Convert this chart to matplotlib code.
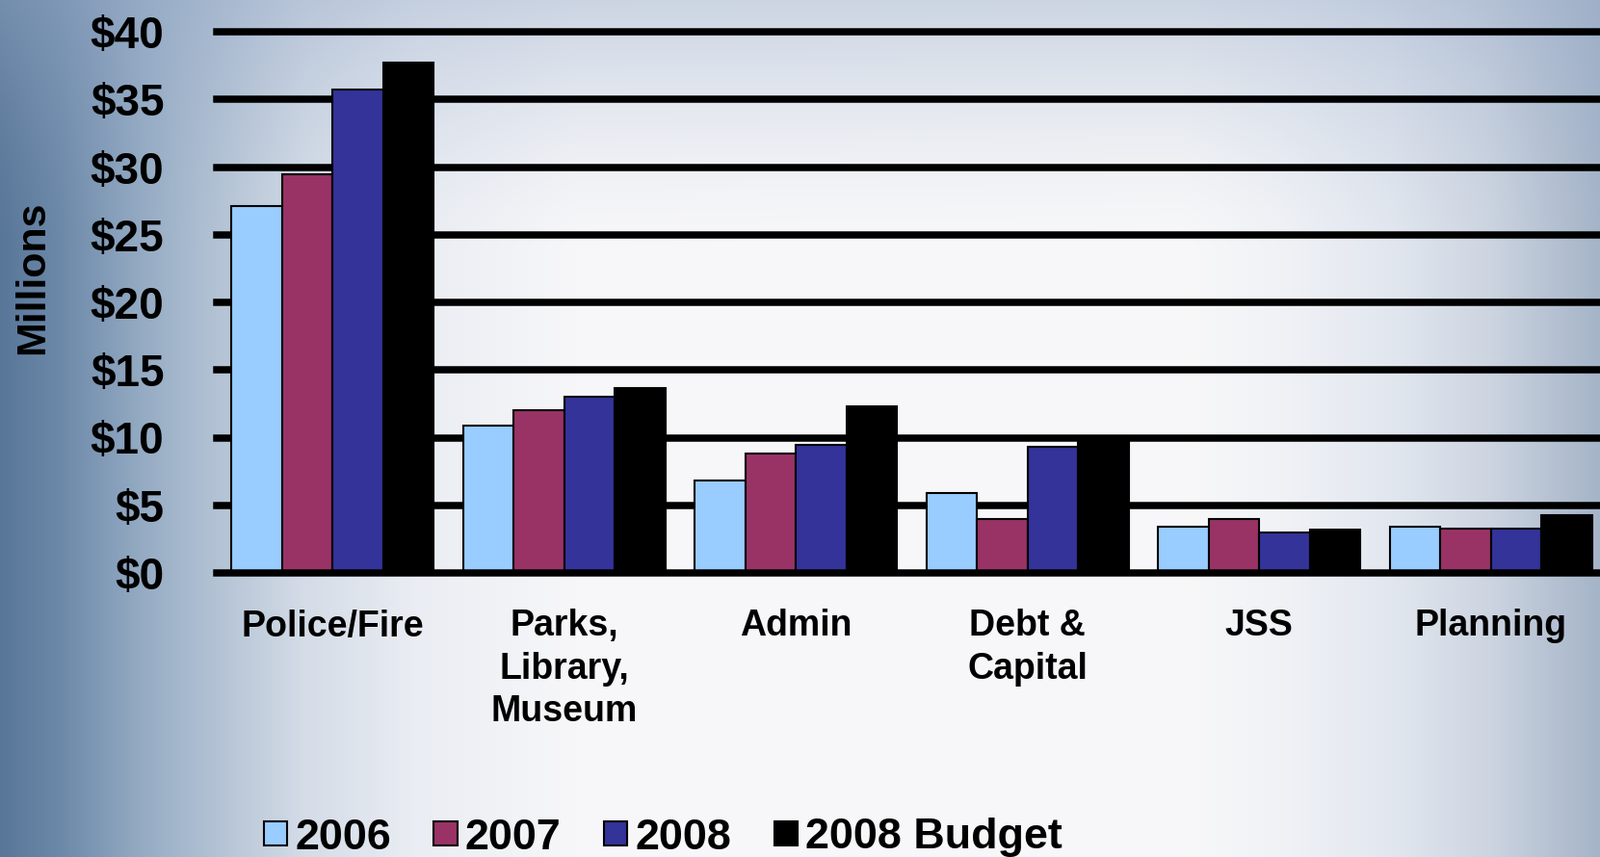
import numpy as np
import matplotlib
matplotlib.use("Agg")
import matplotlib.pyplot as plt

plt.rcParams['font.family'] = ['Liberation Sans', 'DejaVu Sans']
plt.rcParams['font.weight'] = 'bold'

categories = ["Police/Fire", "Parks,\nLibrary,\nMuseum", "Admin", "Debt &\nCapital", "JSS", "Planning"]
series_names = ["2006", "2007", "2008", "2008 Budget"]
v2006 = [27.1, 10.9, 6.8, 5.9, 3.4, 3.4]
v2007 = [29.5, 12.0, 8.8, 4.0, 4.0, 3.3]
v2008 = [35.7, 13.0, 9.5, 9.3, 3.0, 3.3]
vbudget = [37.7, 13.7, 12.3, 10.1, 3.2, 4.3]
series_values = [v2006, v2007, v2008, vbudget]
colors = ["#99CCFF", "#993366", "#333399", "#000000"]
yticks = [0, 5, 10, 15, 20, 25, 30, 35, 40]
ytick_labels = ["$0", "$5", "$10", "$15", "$20", "$25", "$30", "$35", "$40"]

W, H = 1661, 890
fig = plt.figure(figsize=(W / 100, H / 100), dpi=100)

# background gradient
xs = np.linspace(0, 1, W)
kx = [0.0, 0.04, 0.09, 0.14, 0.19, 0.26, 0.36, 0.74, 0.80, 0.87, 0.93, 1.0]
kc = np.array([(88, 118, 152), (110, 138, 170), (150, 172, 196), (182, 197, 214),
               (212, 220, 231), (234, 237, 243), (247, 247, 249), (248, 248, 249),
               (240, 242, 246), (226, 231, 239), (205, 213, 225), (165, 180, 200)]) / 255.0
row = np.stack([np.interp(xs, kx, kc[:, i]) for i in range(3)], axis=-1)
ys = np.arange(H)
f = np.clip(1 - ys / 260.0, 0, 1) ** 1.5 * 0.45
top = np.array([150, 170, 200]) / 255.0
img = row[None, :, :] * (1 - f[:, None, None]) + top[None, None, :] * f[:, None, None]
bg = fig.add_axes([0, 0, 1, 1], zorder=-10)
bg.imshow(img, aspect='auto', extent=[0, 1, 0, 1], origin='upper')
bg.axis('off')

ax = fig.add_axes([224.6 / W, 1 - 595 / H, 1 - 224.6 / W, (595 - 33) / H])
ax.patch.set_alpha(0)
x = np.arange(len(categories))
bw = 0.218
for i, (name, vals, c) in enumerate(zip(series_names, series_values, colors)):
    ax.bar(x + (i - 1.5) * bw, vals, width=bw, color=c, edgecolor='black',
           linewidth=1.5, label=name, zorder=2)

for yv in yticks:
    ax.axhline(yv, color='black', lw=5.4, zorder=1 if yv > 0 else 3, clip_on=False)

ax.set_xlim(-0.502, 5.471)
ax.set_ylim(0, 40)
ax.set_yticks(yticks)
ax.set_yticklabels(ytick_labels, fontsize=33, fontweight='bold')
ax.set_xticks(x)
ax.set_xticklabels(categories, fontsize=27, fontweight='bold', linespacing=1.3)
ax.tick_params(axis='y', length=0, pad=39)
ax.tick_params(axis='x', length=0, pad=27)
for s in ax.spines.values():
    s.set_visible(False)

fig.text(34 / W, 1 - 288 / H, "Millions", rotation=90, ha='center', va='center',
         fontsize=31, fontweight='bold')

handles, labels = ax.get_legend_handles_labels()
leg = fig.legend(handles, labels, loc='center left', bbox_to_anchor=(274 / W, 1 - 870 / H),
                 ncol=4, frameon=False, handlelength=0.54, handleheight=0.5,
                 handletextpad=0.18, columnspacing=0.99, borderpad=0, borderaxespad=0,
                 prop={'weight': 'bold', 'size': 32.3})

fig.savefig("out.png", dpi=100)
